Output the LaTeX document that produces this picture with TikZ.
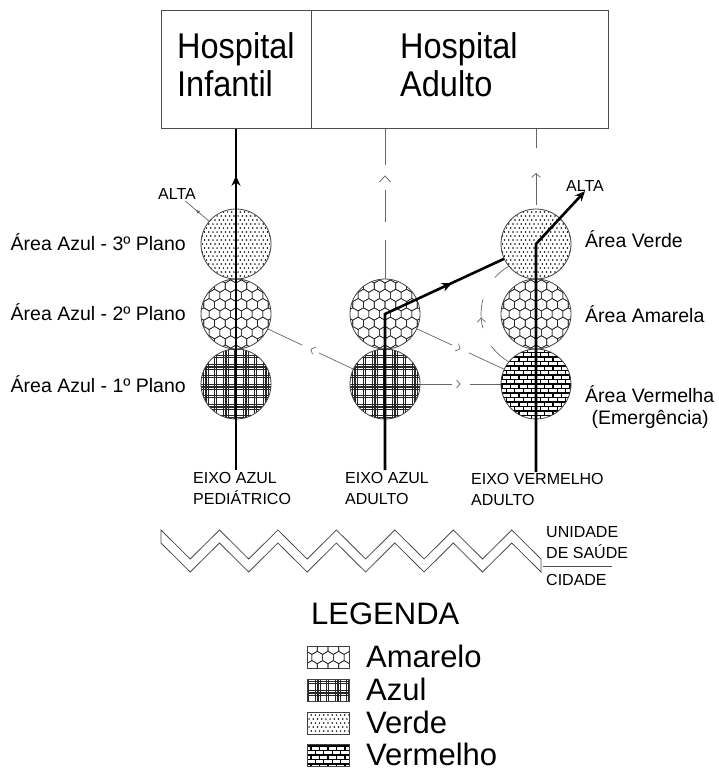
\documentclass[tikz,border=0pt]{standalone}
\usepackage{fontspec}
\setmainfont{Liberation Sans}
\usetikzlibrary{arrows.meta,decorations.markings,calc}

\newcommand\fHosp{\fontsize{32.5pt}{38pt}\selectfont}
\newcommand\fLab{\fontsize{19.5pt}{23pt}\selectfont}
\newcommand\fEixo{\fontsize{16pt}{19pt}\selectfont}
\newcommand\fLeg{\fontsize{31pt}{36pt}\selectfont}
\newcommand\tallH[1]{\scalebox{1}[1.1]{#1}}

\newcommand\patdots{%
  \foreach \j in {-10,...,10}{%
    \foreach \i in {-10,...,10}{%
      \fill[black] ({\i*4.2+mod(\j,2)*2.1},{\j*4.0}) circle[radius=0.85pt];%
    }%
  }%
}
\newcommand\pathex{%
  \foreach \j in {-5,...,5}{%
    \foreach \i in {-5,...,5}{%
      \pgfmathsetmacro\pHx{\i*10.74+mod(\j,2)*5.37}%
      \pgfmathsetmacro\pHy{\j*9.3}%
      \draw[black!85,line width=0.6pt] (\pHx,\pHy) +(90:6.2) -- +(150:6.2) -- +(210:6.2) -- +(270:6.2) -- +(330:6.2) -- +(30:6.2) -- cycle;%
    }%
  }%
}
\newcommand\patplaid{%
  \foreach \k in {-3,...,2}{%
    \foreach \o in {0,1.8,3.6,5.4,11,12.8}{%
      \draw[black!85,line width=0.6pt] (-45,{\k*20+\o}) -- (45,{\k*20+\o});%
      \draw[black!85,line width=0.6pt] ({\k*20+\o+7},-45) -- ({\k*20+\o+7},45);%
    }%
  }%
}
\newcommand\patbrick{%
  \foreach \j in {-10,...,10}{%
    \draw[black,line width=1.2pt] (-45,{\j*4.5}) -- (45,{\j*4.5});%
    \foreach \i in {-6,...,6}{%
      \draw[black,line width=1.2pt] ({\i*8.5+mod(\j,2)*4.25},{\j*4.5}) -- ++(0,4.5);%
    }%
  }%
}

\begin{document}
\begin{tikzpicture}[x=1pt,y=-1pt,
  txt/.style={inner sep=0pt, text=black},
  circ/.style={circle, draw=black!75, line width=0.8pt, minimum size=70pt, inner sep=0pt},
  swatch/.style={rectangle, draw=black!75, line width=0.8pt, minimum width=42pt, minimum height=22pt, inner sep=0pt},
  pverde/.style={path picture={\begin{scope}[shift={(path picture bounding box.center)}]\patdots\end{scope}}},
  pamar/.style={path picture={\begin{scope}[shift={(path picture bounding box.center)}]\pathex\end{scope}}},
  pazul/.style={path picture={\begin{scope}[shift={(path picture bounding box.center)}]\patplaid\end{scope}}},
  pverm/.style={path picture={\begin{scope}[shift={(path picture bounding box.center)}]\patbrick\end{scope}}},
  hbox/.style={rectangle, draw=black!70, line width=0.9pt, minimum height=118pt, inner sep=0pt, anchor=north west},
  thinline/.style={draw=black!60, line width=0.7pt},
  axisline/.style={line width=2.6pt, draw=black},
  midchev/.style={postaction={decorate}, decoration={markings, mark=at position #1 with {\fill[white] (-9pt,-2.5pt) rectangle (9pt,2.5pt); \arrow{Straight Barb[length=3.5pt,width=8pt]}}}},
]
\useasboundingbox (0,0) rectangle (719,771);

% hospital boxes
\node[hbox, minimum width=150pt] (infantil) at (161,10) {};
\node[hbox, minimum width=297pt] (adulto) at (311,10) {};
\node[txt, font=\fHosp, anchor=base west] (th1) at (177,58.3) {\tallH{Hospital}};
\node[txt, font=\fHosp, anchor=base west] (th2) at (177,96.7) {\tallH{Infantil}};
\node[txt, font=\fHosp, anchor=base west] (th3) at (400,58.3) {\tallH{Hospital}};
\node[txt, font=\fHosp, anchor=base west] (th4) at (400,96.7) {\tallH{Adulto}};

% circles
\node[circ,pverde] (l3) at (236,244) {};
\node[circ,pamar]  (l2) at (236,314) {};
\node[circ,pazul]  (l1) at (236,384) {};
\node[circ,pamar]  (m2) at (385,314) {};
\node[circ,pazul]  (m1) at (385,384) {};
\node[circ,pverde] (r3) at (536,244) {};
\node[circ,pamar]  (r2) at (536,314) {};
\node[circ,pverm]  (r1) at (536,384) {};

% labels
\node[txt, font=\fLab, anchor=base east] (la3) at (186,250) {Área Azul - 3º Plano};
\node[txt, font=\fLab, anchor=base east] (la2) at (186,320) {Área Azul - 2º Plano};
\node[txt, font=\fLab, anchor=base east] (la1) at (186,392) {Área Azul - 1º Plano};
\node[txt, font=\fLab, anchor=base west] (ra3) at (585,247) {Área Verde};
\node[txt, font=\fLab, anchor=base west] (ra2) at (585,322) {Área Amarela};
\node[txt, font=\fLab, anchor=base west] (ra1) at (585,402) {Área Vermelha};
\node[txt, font=\fLab, anchor=base west] (ra0) at (591.5,424) {(Emergência)};

\node[txt, font=\fEixo] (altaL) at (177,194) {ALTA};
\node[txt, font=\fEixo] (altaR) at (585,185.5) {ALTA};

% thin connectors
\draw[thinline, midchev=0.5] (m1) -- (l2);
\draw[thinline, midchev=0.5] (m2) -- (r1);
\draw[thinline, midchev=0.5] (m1) -- (r1);
\draw[thinline, shorten >=2pt, postaction={decorate}, decoration={markings, mark=at position 0.55 with {\arrow{Latex[length=5pt,width=3.5pt]}}}] (l3) -- (altaL);
\draw[thinline, dash pattern=on 39pt off 18pt on 32pt off 25pt on 40pt, postaction={decorate}, decoration={markings, mark=at position 0.689 with {\arrow{Straight Barb[length=6pt,width=11pt]}}}] (m2.north) -- (m2.north |- adulto.south);
\draw[thinline, dash pattern=on 24pt off 20pt on 29pt off 25pt on 30pt, postaction={decorate}, decoration={markings, mark=at position 0.47 with {\arrow{Straight Barb[length=4pt,width=8pt]}}}] ($(r2.center)+(119.4:55)$) arc[start angle=119.4, end angle=240.6, radius=55];
\coordinate (rtA) at (536,205);
\coordinate (rtB) at (536,173);
\coordinate (rtC) at (536,148);
\draw[thinline, -{Straight Barb[length=4pt,width=9pt]}] (rtA) -- (rtB);
\draw[thinline] (adulto.south -| r3) -- (rtC);

% thick axes
\coordinate (eL) at (236,470);
\coordinate (eM) at (385,470);
\coordinate (eR) at (536,472);
\draw[axisline, postaction={decorate}, decoration={markings, mark=at position 0.8626 with {\arrow{Stealth[length=10pt,width=9pt]}}}] (eL) -- (eL |- infantil.south);
\draw[axisline, postaction={decorate}, decoration={markings, mark=at position 0.80 with {\arrow{Stealth[length=10pt,width=9pt]}}}] (eM) -- (m2.center) -- (r3);
\draw[axisline, -{Stealth[length=10pt,width=9pt]}] (eR) -- (r3.center) -- (altaR.south);

% axis labels
\node[txt, font=\fEixo, anchor=base west] (ex1a) at (193,483) {EIXO AZUL};
\node[txt, font=\fEixo, anchor=base west] (ex1b) at (193,504) {PEDIÁTRICO};
\node[txt, font=\fEixo, anchor=base west] (ex2a) at (345,483) {EIXO AZUL};
\node[txt, font=\fEixo, anchor=base west] (ex2b) at (345,504) {ADULTO};
\node[txt, font=\fEixo, anchor=base west] (ex3a) at (471,484) {EIXO VERMELHO};
\node[txt, font=\fEixo, anchor=base west] (ex3b) at (471,505) {ADULTO};

% zigzag wall
\draw[black!70, line width=0.8pt] (161,530) -- (190.2,559) -- (219.5,530) -- (248.7,559) -- (277.9,530) -- (307.2,559) -- (336.4,530) -- (365.6,559) -- (394.8,530) -- (424.1,559) -- (453.3,530) -- (482.5,559) -- (511.8,530) -- (541,559)
  -- (541,572) -- (511.8,543) -- (482.5,572) -- (453.3,543) -- (424.1,572) -- (394.8,543) -- (365.6,572) -- (336.4,543) -- (307.2,572) -- (277.9,543) -- (248.7,572) -- (219.5,543) -- (190.2,572) -- (161,543) -- cycle;
\coordinate (sepA) at (543,566);
\coordinate (sepB) at (612,566);
\draw[black!70, line width=0.8pt] (sepA) -- (sepB);
\node[txt, font=\fEixo, anchor=base west] (u1) at (546,537) {UNIDADE};
\node[txt, font=\fEixo, anchor=base west] (u2) at (546,558) {DE SAÚDE};
\node[txt, font=\fEixo, anchor=base west] (u3) at (546,585) {CIDADE};

% legend
\node[txt, font=\fLeg, anchor=base west] (leg) at (311,624) {LEGENDA};
\node[swatch, pamar]  (sw1) at (328,657.5) {};
\node[swatch, pazul]  (sw2) at (328,690) {};
\node[swatch, pverde] (sw3) at (328,723) {};
\node[swatch, pverm]  (sw4) at (328,755) {};
\node[txt, font=\fLeg, anchor=base west] (lg1) at (366,667.5) {Amarelo};
\node[txt, font=\fLeg, anchor=base west] (lg2) at (366,700.5) {Azul};
\node[txt, font=\fLeg, anchor=base west] (lg3) at (366,733.5) {Verde};
\node[txt, font=\fLeg, anchor=base west] (lg4) at (366,765) {Vermelho};
\end{tikzpicture}
\end{document}
